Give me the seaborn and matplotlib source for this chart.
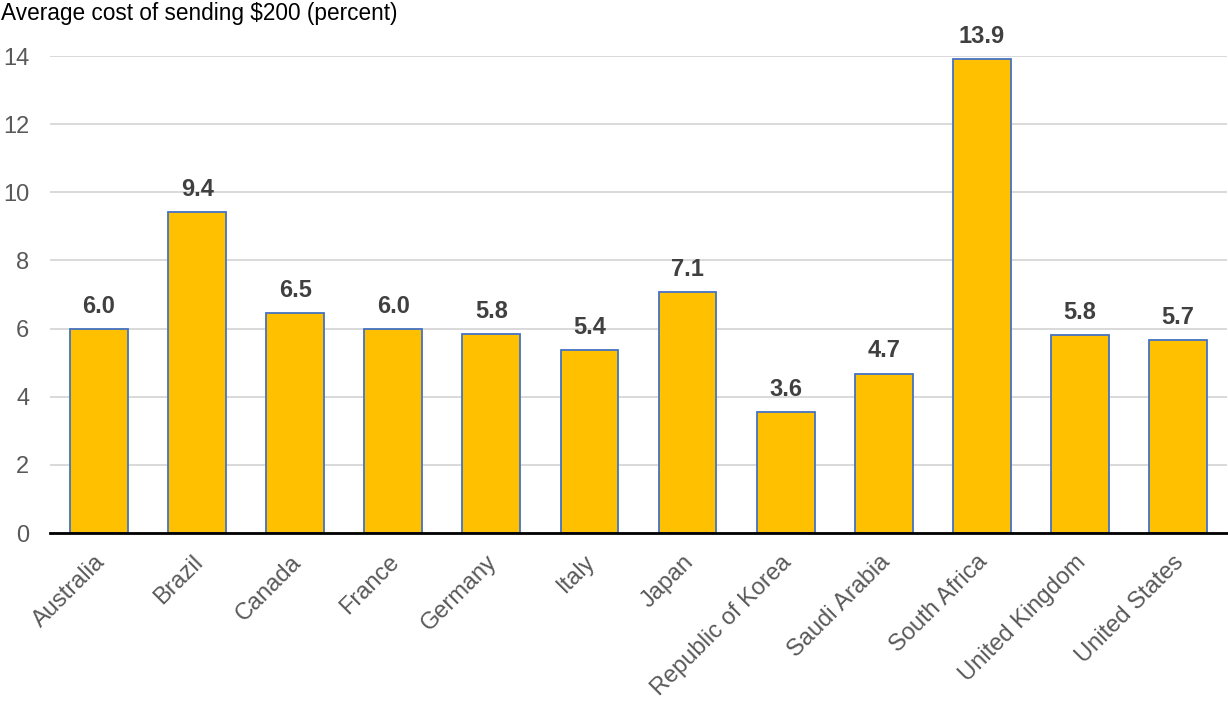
import matplotlib
matplotlib.use("Agg")
import matplotlib.pyplot as plt
import matplotlib.transforms as mtransforms
import seaborn as sns
import pandas as pd

countries = ["Australia", "Brazil", "Canada", "France", "Germany", "Italy", "Japan",
             "Republic of Korea", "Saudi Arabia", "South Africa", "United Kingdom",
             "United States"]
cost_pct = [5.99, 9.42, 6.46, 5.99, 5.84, 5.37, 7.08, 3.56, 4.68, 13.91, 5.82, 5.66]
y_ticks = [0, 2, 4, 6, 8, 10, 12, 14]
title = "Average cost of sending $200 (percent)"

sns.set_theme(style="white")
plt.rcParams["font.family"] = ["Liberation Sans", "DejaVu Sans"]

df = pd.DataFrame({"country": countries, "cost": cost_pct})

fig = plt.figure(figsize=(12.28, 7.02), dpi=100)
ax = fig.add_axes([0.0407, 0.2407, 0.9585, 0.6795])

sns.barplot(data=df, x="country", y="cost", ax=ax, color="#FFC000",
            saturation=1, width=0.59, edgecolor="#4472C4", linewidth=1.3)

ax.set_ylim(0, 14)
ax.set_xlim(-0.5, len(countries) - 0.5)
ax.set_yticks(y_ticks)
ax.yaxis.grid(True, color="#D9D9D9", linewidth=1.4)
ax.set_axisbelow(True)
for s in ["top", "right", "left"]:
    ax.spines[s].set_visible(False)
ax.spines["bottom"].set_color("black")
ax.spines["bottom"].set_linewidth(2)
ax.set_xlabel("")
ax.set_ylabel("")
ax.tick_params(axis="y", length=0, pad=15, labelsize=17, labelcolor="#595959")
ax.tick_params(axis="x", length=0, pad=13, labelsize=17, labelcolor="#595959")

# rotated category labels, nudged slightly left of the tick
shift = mtransforms.ScaledTranslation(-5 / 100, 0, fig.dpi_scale_trans)
for lbl in ax.get_xticklabels():
    lbl.set_rotation(45)
    lbl.set_ha("right")
    lbl.set_rotation_mode("anchor")
    lbl.set_transform(lbl.get_transform() + shift)

for i, v in enumerate(cost_pct):
    ax.annotate(f"{v:.1f}", (i, v), xytext=(0, 8), textcoords="offset points",
                ha="center", va="bottom", fontsize=17, fontweight="bold",
                color="#404040")

fig.text(0.001, 0.997, title, ha="left", va="top", fontsize=16.3, color="black")

fig.savefig("out.png", dpi=100)
